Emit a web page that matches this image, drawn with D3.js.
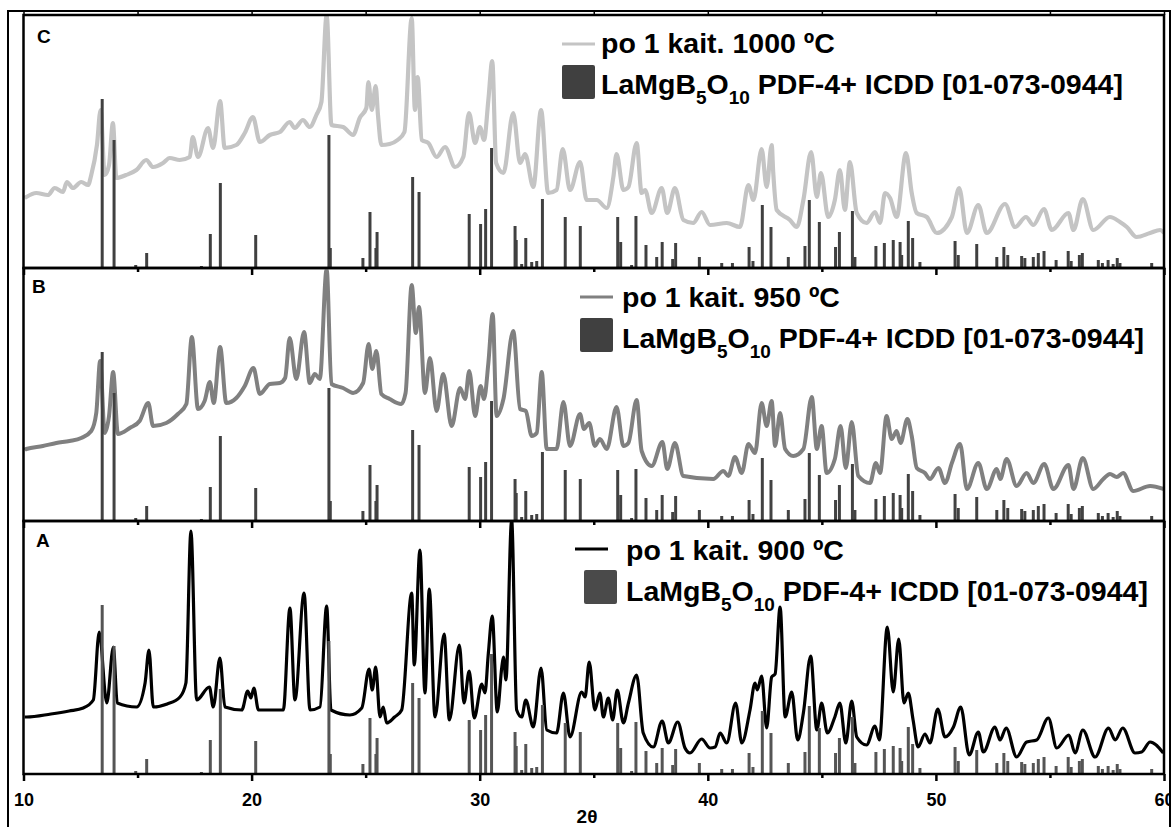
<!DOCTYPE html>
<html><head><meta charset="utf-8">
<script src="https://cdn.jsdelivr.net/npm/d3@7"></script>
<style>
html,body{margin:0;padding:0;background:#fff;}
svg{display:block;font-family:"Liberation Sans",Arial,sans-serif;}
</style></head>
<body>
<svg id="chart" width="1171" height="827"></svg>
<script>
// ---------------- DATA ----------------
const xTicks = [10, 20, 30, 40, 50, 60];
const xMinorTicks = [15, 25, 35, 45, 55];
const panelLetters = ["C", "B", "A"];
const sampleNames = ["po 1 kait. 1000 ºC", "po 1 kait. 950 ºC", "po 1 kait. 900 ºC"];
const refName = ["LaMgB", "5", "O", "10", " PDF-4+ ICDD [01-073-0944]"];
const xLabel = "2θ";

// reference stick pattern (2θ, relative intensity)
const stickPos = [13.45,13.97,14.92,15.4,17.8,18.19,18.63,20.18,23.39,23.45,24.88,25.19,25.45,25.5,27.06,27.34,29.54,30.04,30.26,30.52,31.55,31.6,31.84,32.02,32.28,32.5,32.75,33.75,34.41,36.05,36.18,36.66,36.85,37.29,37.76,38.0,38.46,38.59,39.63,40.61,41.08,41.81,41.98,42.39,42.77,43.53,44.26,44.45,44.89,45.6,45.77,46.34,46.45,47.37,47.74,48.13,48.43,48.5,48.79,48.98,49.3,50.84,50.98,51.79,52.67,52.98,53.15,53.76,53.9,54.27,54.49,54.74,55.27,55.8,55.93,56.29,56.42,57.12,57.3,57.55,57.77,57.95,58.07,59.46];
const stickInt = [169,128,3,15,2,34,85,33,133,20,10,56,20,36,91,76,54,44,59,120,42,28,4,30,6,7,69,51,42,51,26,3,52,23,11,26,9,25,11,5,5,21,7,63,41,11,22,68,46,21,36,57,11,22,25,28,26,13,47,30,6,27,13,24,11,21,13,12,10,11,15,17,8,17,7,13,15,8,5,8,4,10,5,5];

// measured patterns (2θ, intensity a.u.)
const trace1000 = [[10.05,70],[10.12,71],[10.56,75],[11.07,73],[11.37,80],[11.73,76],[11.9,86],[12.17,80],[12.53,86],[12.83,83],[12.97,93],[13.22,123],[13.38,158],[13.56,93],[13.75,103],[13.92,145],[14.07,90],[14.5,93],[14.95,98],[15.38,108],[15.68,101],[16.12,105],[16.41,110],[16.85,108],[17.29,111],[17.42,131],[17.65,111],[18.09,140],[18.31,120],[18.62,167],[18.82,120],[19.33,123],[19.7,135],[20.06,151],[20.36,126],[20.8,133],[21.24,136],[21.67,146],[21.89,140],[22.25,148],[22.55,141],[22.84,153],[23.06,166],[23.29,253],[23.5,143],[24.01,141],[24.45,133],[24.74,150],[25.03,160],[25.12,186],[25.27,158],[25.44,182],[25.54,153],[25.69,123],[26.05,124],[26.4,128],[26.7,136],[27.02,250],[27.16,158],[27.28,191],[27.46,128],[27.75,125],[28.11,111],[28.48,121],[28.92,101],[29.28,111],[29.53,155],[29.8,125],[30.01,141],[30.19,128],[30.38,168],[30.55,207],[30.72,105],[31.04,95],[31.47,155],[31.77,105],[31.99,114],[32.35,81],[32.69,158],[33.0,75],[33.37,78],[33.64,119],[33.96,78],[34.4,106],[34.69,68],[35.13,68],[35.57,60],[35.86,91],[36.0,114],[36.3,78],[36.52,81],[36.88,125],[37.1,75],[37.25,78],[37.54,55],[37.98,80],[38.22,55],[38.56,80],[38.93,48],[39.36,45],[39.73,56],[40.1,43],[40.83,45],[41.41,41],[41.78,83],[42.0,68],[42.36,119],[42.58,81],[42.8,123],[42.87,95],[43.02,58],[43.6,48],[43.9,41],[44.19,68],[44.53,116],[44.78,71],[44.96,95],[45.28,51],[45.57,68],[45.79,98],[46.01,58],[46.23,106],[46.53,55],[46.96,45],[47.33,56],[47.55,45],[47.77,75],[47.99,70],[48.28,51],[48.69,115],[48.94,75],[49.16,55],[49.6,51],[50.04,35],[50.7,51],[51.02,80],[51.36,35],[51.86,63],[52.23,35],[53.03,64],[53.47,41],[53.95,51],[54.27,43],[54.74,59],[55.08,38],[55.81,55],[56.03,38],[56.44,69],[56.9,38],[57.63,51],[58.07,46],[58.37,41],[58.8,31],[59.39,35],[59.83,38],[60,35]];

const trace950 = [[10.05,71],[10.12,72],[10.85,75],[11.44,78],[12.02,80],[12.53,83],[12.97,90],[13.19,108],[13.36,160],[13.56,88],[13.75,105],[13.93,149],[14.14,87],[14.66,93],[15.09,100],[15.47,118],[15.68,95],[16.26,98],[16.77,107],[17.14,117],[17.38,184],[17.65,112],[17.94,120],[18.17,139],[18.34,118],[18.62,174],[18.89,118],[19.33,123],[19.7,135],[20.08,153],[20.36,127],[20.8,137],[21.24,138],[21.47,143],[21.67,183],[21.96,142],[22.3,189],[22.55,138],[22.77,147],[22.99,142],[23.29,252],[23.5,137],[24.01,133],[24.45,128],[24.89,138],[25.13,177],[25.29,152],[25.47,170],[25.69,127],[26.05,122],[26.56,117],[26.75,128],[27.02,236],[27.2,188],[27.34,214],[27.6,128],[27.82,163],[28.11,110],[28.4,147],[28.77,95],[29.14,133],[29.36,122],[29.54,150],[29.8,105],[30.04,135],[30.19,122],[30.38,158],[30.57,207],[30.74,105],[31.04,122],[31.47,190],[31.77,112],[32.02,110],[32.28,85],[32.5,88],[32.72,149],[32.94,72],[33.37,72],[33.67,119],[33.96,75],[34.4,107],[34.57,92],[34.8,98],[35.05,75],[35.27,82],[35.57,72],[36.0,114],[36.3,75],[36.52,78],[36.88,121],[37.1,70],[37.54,55],[38.01,79],[38.22,52],[38.56,78],[38.93,45],[40.24,42],[40.68,50],[40.9,45],[41.19,64],[41.49,48],[41.78,77],[42.07,68],[42.36,118],[42.58,95],[42.8,120],[42.95,75],[43.17,108],[43.39,72],[43.75,65],[44.19,72],[44.56,124],[44.78,72],[44.99,95],[45.21,48],[45.57,62],[45.82,95],[46.05,53],[46.31,99],[46.6,45],[47.11,38],[47.37,58],[47.55,48],[47.84,105],[48.06,82],[48.28,90],[48.45,78],[48.75,102],[48.94,85],[49.16,53],[49.52,48],[49.74,42],[50.11,53],[50.4,38],[50.7,58],[51.06,77],[51.36,32],[51.86,58],[52.23,32],[52.67,52],[52.82,42],[53.1,62],[53.54,35],[53.98,48],[54.27,38],[54.75,57],[55.15,32],[55.81,56],[56.03,32],[56.44,63],[56.9,32],[57.34,42],[57.63,47],[57.93,44],[58.21,48],[58.65,30],[59.39,35],[60,32]];

const trace900 = [[10.05,57],[10.14,57],[11.2,60],[12.0,63],[12.62,66],[13.06,74],[13.32,142],[13.65,71],[13.94,127],[14.11,71],[14.96,67],[15.33,91],[15.5,124],[15.69,67],[16.3,70],[16.86,77],[17.12,91],[17.34,243],[17.59,74],[18.15,87],[18.32,67],[18.61,116],[18.83,67],[19.57,64],[19.83,83],[19.97,76],[20.1,86],[20.3,64],[21.39,64],[21.68,166],[21.9,74],[22.3,181],[22.56,64],[23.0,67],[23.29,168],[23.48,64],[24.31,59],[24.83,66],[25.15,105],[25.29,84],[25.44,107],[25.63,57],[25.77,67],[25.92,51],[26.27,57],[26.58,64],[27.02,181],[27.13,109],[27.38,224],[27.6,81],[27.79,185],[28.04,57],[28.44,140],[28.67,54],[29.11,129],[29.31,71],[29.54,103],[29.76,56],[30.09,90],[30.23,81],[30.38,121],[30.55,158],[30.77,62],[30.97,107],[31.04,117],[31.15,94],[31.4,254],[31.62,64],[31.84,57],[32.02,74],[32.35,47],[32.69,106],[32.94,44],[33.37,41],[33.67,81],[33.96,37],[34.47,82],[34.62,77],[34.8,112],[35.05,64],[35.27,81],[35.42,57],[35.64,76],[35.83,54],[36.03,84],[36.3,51],[36.52,71],[36.88,99],[37.17,41],[37.61,27],[38.0,53],[38.27,31],[38.68,52],[39.0,26],[39.22,21],[39.73,35],[40.1,26],[40.32,27],[40.54,41],[40.83,31],[41.22,71],[41.49,31],[41.85,64],[42.07,91],[42.17,84],[42.36,98],[42.58,46],[42.8,97],[42.95,100],[43.17,167],[43.39,57],[43.68,82],[43.94,34],[44.19,61],[44.51,118],[44.78,44],[44.99,71],[45.24,41],[45.57,57],[45.79,71],[46.05,31],[46.31,73],[46.53,37],[46.96,29],[47.33,48],[47.52,34],[47.87,147],[48.13,82],[48.37,135],[48.6,71],[48.79,81],[49.0,54],[49.22,27],[49.52,40],[49.74,31],[50.08,65],[50.4,37],[50.77,47],[51.09,67],[51.46,19],[51.86,42],[52.08,22],[52.59,47],[52.81,34],[53.08,46],[53.54,17],[53.98,32],[54.42,34],[54.93,56],[55.3,26],[55.83,39],[56.1,21],[56.44,44],[56.98,17],[57.57,46],[57.86,34],[58.19,46],[58.73,21],[59.02,22],[59.39,32],[59.97,21]];

const traces = [trace1000, trace950, trace900];

// ---------------- STYLE / LAYOUT ----------------
const traceColors = ["#c4c4c4", "#808080", "#000000"];
const traceWidths = [4.2, 4.0, 3.2];
const stickColors = ["#404040", "#424242", "#555555"];
const squareColors = ["#404040", "#404040", "#4a4a4a"];
const W = 1171, H = 827;
const left = 23.5, right = 1164;
const panelTop0 = 15, panelH = 253;
const legendPos = [
  {lx: 562, ly: 44, tx: 601, b1: 53, sq: [562, 65], b2: 94},
  {lx: 580, ly: 297, tx: 622, b1: 307, sq: [580, 318], b2: 348},
  {lx: 575, ly: 549, tx: 626, b1: 560, sq: [584, 570], b2: 601}
];
const letterPos = [[37, 43], [32, 293], [36, 547]];

const svg = d3.select("#chart");
const x = d3.scaleLinear().domain([10, 60]).range([left, right]);

// outer frame
svg.append("path")
  .attr("d", `M8,${H + 5} L8,11 L1170,11 L1170,${H + 5}`)
  .attr("fill", "none").attr("stroke", "#000").attr("stroke-width", 2);

const defs = svg.append("defs");

panelLetters.forEach((letter, i) => {
  const top = panelTop0 + i * panelH;
  const bottom = top + panelH;
  const y = d3.scaleLinear().domain([0, 253]).range([bottom, top]);
  const g = svg.append("g");

  defs.append("clipPath").attr("id", "clip" + i)
    .append("rect").attr("x", left).attr("y", top - 1).attr("width", right - left).attr("height", panelH + 1);

  // trace
  const line = d3.line().x(d => x(d[0])).y(d => y(d[1])).curve(d3.curveMonotoneX);
  g.append("path").datum(traces[i])
    .attr("clip-path", `url(#clip${i})`)
    .attr("d", line)
    .attr("fill", "none")
    .attr("stroke", traceColors[i])
    .attr("stroke-width", traceWidths[i])
    .attr("stroke-linejoin", "round");

  // sticks
  g.append("g").selectAll("line").data(stickPos).join("line")
    .attr("x1", d => x(d)).attr("x2", d => x(d))
    .attr("y1", y(0)).attr("y2", (d, k) => y(stickInt[k]))
    .attr("stroke", stickColors[i]).attr("stroke-width", 3);

  // frame of panel
  g.append("rect").attr("x", left).attr("y", top)
    .attr("width", right - left).attr("height", panelH)
    .attr("fill", "none").attr("stroke", "#000").attr("stroke-width", 2.5);

  // bottom axis ticks
  const major = d3.axisBottom(x).tickValues(xTicks).tickSize(7).tickPadding(12)
    .tickFormat(i === 2 ? d3.format("d") : () => "");
  const ax = g.append("g").attr("transform", `translate(0,${bottom})`).call(major);
  ax.select(".domain").remove();
  ax.selectAll(".tick line").attr("stroke", "#000").attr("stroke-width", 2.5);
  ax.selectAll(".tick text").attr("font-size", 18).attr("font-weight", "bold")
    .attr("font-family", "Liberation Sans, Arial, sans-serif").attr("fill", "#000");
  const minor = d3.axisBottom(x).tickValues(xMinorTicks).tickSize(4).tickFormat(() => "");
  const axm = g.append("g").attr("transform", `translate(0,${bottom})`).call(minor);
  axm.select(".domain").remove();
  axm.selectAll(".tick line").attr("stroke", "#000").attr("stroke-width", 2.5);

  // panel letter
  g.append("text").attr("x", letterPos[i][0]).attr("y", letterPos[i][1])
    .attr("font-size", 19).attr("font-weight", "bold").text(letter);

  // legend
  const L = legendPos[i];
  g.append("line").attr("x1", L.lx).attr("x2", L.lx + 33).attr("y1", L.ly).attr("y2", L.ly)
    .attr("stroke", traceColors[i]).attr("stroke-width", 3);
  g.append("text").attr("x", L.tx).attr("y", L.b1)
    .attr("font-size", 28.5).attr("font-weight", "bold").text(sampleNames[i]);
  g.append("rect").attr("x", L.sq[0]).attr("y", L.sq[1]).attr("width", 33).attr("height", 34)
    .attr("rx", 2).attr("fill", squareColors[i]);
  const t = g.append("text").attr("x", L.tx).attr("y", L.b2)
    .attr("font-size", 28.5).attr("font-weight", "bold");
  t.append("tspan").text(refName[0]);
  t.append("tspan").attr("font-size", 19).attr("dy", 10).text(refName[1]);
  t.append("tspan").attr("dy", -10).text(refName[2]);
  t.append("tspan").attr("font-size", 19).attr("dy", 10).text(refName[3]);
  t.append("tspan").attr("dy", -10).text(refName[4]);
});

// top ticks of the upper panel
const topAx = svg.append("g").attr("transform", `translate(0,${panelTop0})`)
  .call(d3.axisTop(x).tickValues(xTicks.concat(xMinorTicks)).tickSize(3).tickFormat(() => ""));
topAx.select(".domain").remove();
topAx.selectAll(".tick line").attr("stroke", "#000").attr("stroke-width", 1.5);

// x axis title
svg.append("text").attr("x", 587).attr("y", 823).attr("text-anchor", "middle")
  .attr("font-size", 19).attr("font-weight", "bold").text(xLabel);
</script>
</body></html>
